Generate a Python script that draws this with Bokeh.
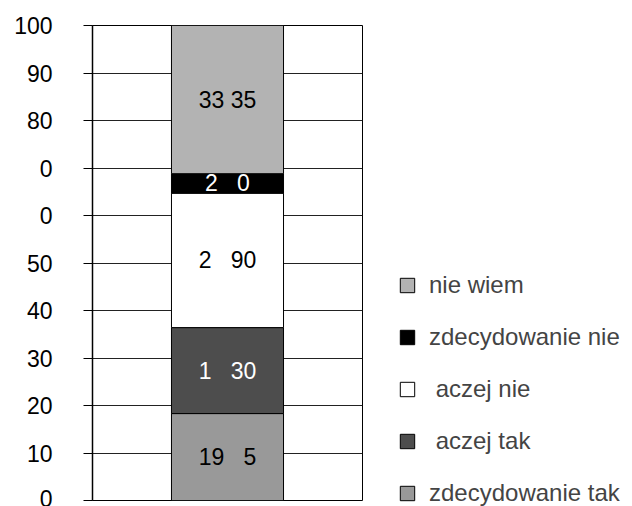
from bokeh.plotting import figure
from bokeh.models import ColumnDataSource, Legend, LegendItem, FixedTicker
from bokeh.core.properties import value
from bokeh.embed import file_html
from bokeh.resources import INLINE

# ---- data ----
x_pos = [0.5]
series_names = ["zdecydowanie tak", "\u00a0aczej tak", "\u00a0aczej nie", "zdecydowanie nie", "nie wiem"]
values_tak = [18.3]
values_raczej_tak = [18.1]
values_raczej_nie = [28.3]
values_zdec_nie = [4.1]
values_nie_wiem = [31.2]
bar_labels = ["19\u00a0\u00a0\u00a05", "1\u00a0\u00a0\u00a030", "2\u00a0\u00a0\u00a090", "2\u00a0\u00a0\u00a00", "33 35"]
colors = ["#999999", "#4d4d4d", "#ffffff", "#000000", "#b3b3b3"]
label_colors = ["black", "white", "black", "white", "black"]
y_ticks = [0, 10, 20, 30, 40, 50, 60, 70, 80, 90, 100]
y_tick_labels = ["0", "10", "20", "30", "40", "50", "0", "0", "80", "90", "100"]

FONT = "Liberation Sans"
FS = "23px"

keys = ["s0", "s1", "s2", "s3", "s4"]
series_vals = [values_tak, values_raczej_tak, values_raczej_nie, values_zdec_nie, values_nie_wiem]
data = {"x": x_pos}
for k, v in zip(keys, series_vals):
    data[k] = v
src = ColumnDataSource(data)

p = figure(frame_width=270, frame_height=475, x_range=(0, 1), y_range=(0, 100),
           output_backend="svg", toolbar_location=None,
           min_border_left=92, min_border_right=0, min_border_top=25, min_border_bottom=6)

renderers = p.vbar_stack(keys, x="x", width=0.415, source=src, color=colors,
                         line_color="black", line_width=1)

# segment labels at segment middles
mids = []
acc = 0.0
for v in series_vals:
    mids.append(acc + v[0] / 2.0)
    acc += v[0]
lab_src = ColumnDataSource(dict(x=[x_pos[0]] * len(mids), y=mids, text=bar_labels, c=label_colors))
p.text(x="x", y="y", text="text", source=lab_src, text_color="c",
       text_align="center", text_baseline="middle",
       text_font=value(FONT), text_font_size=FS)

# axes
p.xaxis.visible = False
p.xgrid.visible = False
p.ygrid.grid_line_color = "#222222"
p.ygrid.grid_line_width = 1
p.ygrid.level = "underlay"
p.yaxis.ticker = FixedTicker(ticks=y_ticks)
p.yaxis.major_label_overrides = {t: l for t, l in zip(y_ticks, y_tick_labels)}
p.yaxis.minor_tick_line_color = None
p.yaxis.major_tick_out = 9
p.yaxis.major_tick_in = 0
p.yaxis.major_tick_line_color = "black"
p.yaxis.axis_line_color = "black"
p.yaxis.axis_line_width = 1.5
p.yaxis.major_label_standoff = 31
p.yaxis.major_label_text_font = FONT
p.yaxis.major_label_text_font_size = FS
p.yaxis.major_label_text_color = "black"
p.outline_line_color = "black"
p.outline_line_width = 1

items = [LegendItem(label=series_names[i], renderers=[renderers[i]]) for i in [4, 3, 2, 1, 0]]
legend = Legend(items=items, location=(36, -7), orientation="vertical",
                label_text_font=FONT, label_text_font_size="24px",
                glyph_width=18, glyph_height=18, label_height=25, label_standoff=13,
                spacing=24, padding=0, margin=0,
                border_line_color=None, background_fill_alpha=0)
p.add_layout(legend, "right")

open("out.html", "w").write(file_html(p, INLINE))
